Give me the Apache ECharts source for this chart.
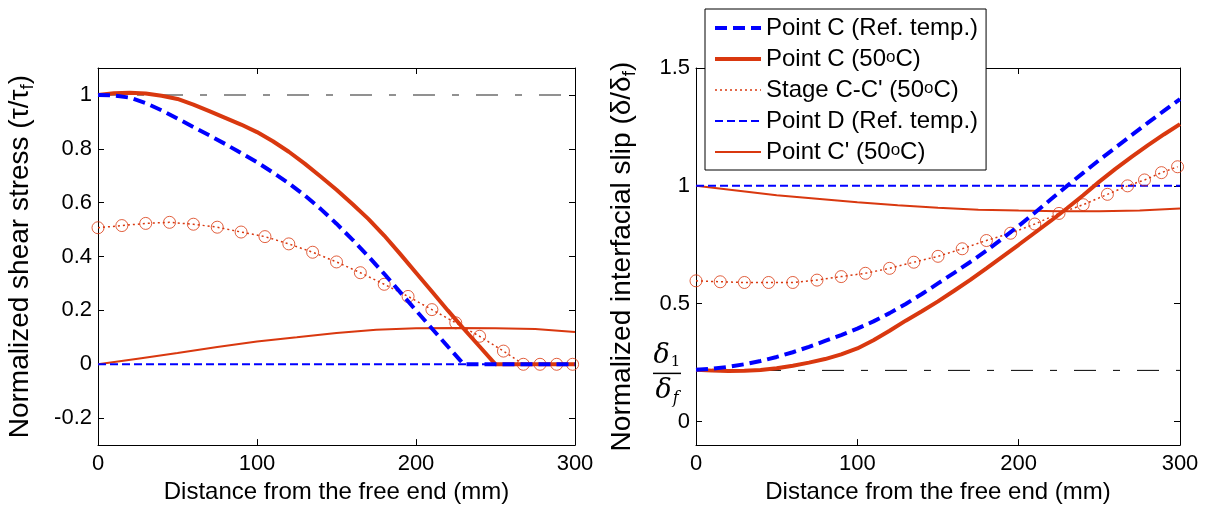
<!DOCTYPE html>
<html><head><meta charset="utf-8">
<script src="https://cdn.jsdelivr.net/npm/echarts@6/dist/echarts.min.js"></script>
<style>html,body{margin:0;padding:0;background:#fff}#c{width:1210px;height:509px}</style>
</head><body><div id="c"></div>
<script>
// ---------- data ----------
const xFine = [0,10,20,30,40,50,60,70,80,90,100,110,120,130,140,150,160,170,180,190,200,210,220,230,240,250,260,270,280,290,300];
const xCoarse = [0,25,50,75,100,125,150,175,200,225,250,275,300];
const xEnds = [0,300];
const stageX = [0,15,30,45,60,75,90,105,120,135,150,165,180,195,210,225,240,255,267.5,278,288.5,298.5];

// left panel: normalized shear stress
const shearPointCRef = [1.0,0.998,0.99,0.97,0.943,0.912,0.881,0.85,0.818,0.784,0.75,0.712,0.672,0.627,0.577,0.522,0.463,0.401,0.336,0.268,0.2,0.133,0.066,0,0,0,0,0,0,0,0];
const shearPointC50 = [1.0,1.006,1.008,1.005,0.997,0.985,0.964,0.94,0.915,0.89,0.862,0.828,0.789,0.745,0.697,0.648,0.595,0.54,0.478,0.41,0.34,0.27,0.2,0.132,0.066,0,0,0,0,0,0];
const shearStage = [0.507,0.515,0.523,0.527,0.52,0.509,0.491,0.474,0.447,0.416,0.38,0.34,0.297,0.252,0.203,0.154,0.104,0.049,0,0,0,0];
const shearPointDRef = [0,0];
const shearPointCp50 = [0,0.021,0.042,0.064,0.085,0.1,0.116,0.128,0.134,0.135,0.134,0.131,0.12];
const shearRefLine = [1,1];

// right panel: normalized interfacial slip
const slipPointCRef = [0.22,0.224,0.232,0.243,0.257,0.274,0.294,0.317,0.342,0.367,0.394,0.425,0.46,0.499,0.541,0.586,0.631,0.677,0.725,0.777,0.83,0.886,0.943,1.0,1.055,1.11,1.162,1.215,1.267,1.318,1.368];
const slipPointC50 = [0.22,0.216,0.214,0.215,0.219,0.226,0.237,0.25,0.265,0.285,0.31,0.345,0.385,0.428,0.468,0.51,0.555,0.601,0.65,0.7,0.75,0.801,0.852,0.905,0.96,1.018,1.072,1.123,1.172,1.218,1.262];
const slipStage = [0.597,0.593,0.59,0.59,0.59,0.6,0.615,0.629,0.65,0.676,0.701,0.733,0.768,0.799,0.838,0.883,0.92,0.964,1.0,1.025,1.056,1.081];
const slipPointDRef = [1,1];
const slipPointCp50 = [1.0,0.98,0.96,0.945,0.93,0.918,0.907,0.899,0.895,0.892,0.892,0.895,0.904];
const slipRefLine = [0.217,0.217];

const legendNames = ['Point C (Ref. temp.)','Point C (50oC)',"Stage C-C' (50oC)",'Point D (Ref. temp.)',"Point C' (50oC)"];
const xTickValues = [0,100,200,300];
const shearTickValues = [-0.2,0,0.2,0.4,0.6,0.8,1];
const slipTickValues = [0,0.5,1,1.5];

// ---------- styling ----------
const RED = '#D9380F';
const BLUE = '#0000FF';
const FONT = '"Liberation Sans", Arial, sans-serif';
const zip = (xs, ys) => xs.map((x, i) => [x, ys[i]]);

function xAx(grid, pos, min, max, ticks, withLabel) {
  return {
    type: 'value', gridIndex: grid, position: pos, min: min, max: max,
    axisLine: {show: true, onZero: false, lineStyle: {color: '#000', width: 1}},
    axisTick: {show: true, inside: true, length: 6, customValues: ticks, lineStyle: {color: '#000'}},
    axisLabel: {show: withLabel, customValues: ticks, fontSize: 22, color: '#000', fontFamily: FONT, margin: 8},
    splitLine: {show: false},
    name: withLabel ? 'Distance from the free end (mm)' : '',
    nameLocation: 'middle', nameGap: 30,
    nameTextStyle: {fontSize: 24, color: '#000', fontFamily: FONT}
  };
}
function yAx(grid, pos, min, max, ticks, withLabel, name, gap) {
  return {
    type: 'value', gridIndex: grid, position: pos, min: min, max: max,
    axisLine: {show: true, onZero: false, lineStyle: {color: '#000', width: 1}},
    axisTick: {show: true, inside: true, length: 6, customValues: ticks, lineStyle: {color: '#000'}},
    axisLabel: {show: withLabel, customValues: ticks, fontSize: 22, color: '#000', fontFamily: FONT, margin: 6},
    splitLine: {show: false},
    name: withLabel ? name : '',
    nameLocation: 'middle', nameGap: gap, nameRotate: 90,
    nameTextStyle: {fontSize: 28, color: '#000', fontFamily: FONT,
      rich: {sub: {fontSize: 19, color: '#000', fontFamily: FONT, verticalAlign: 'bottom', padding: [14, 0, 0, 0]}}}
  };
}
function lineSeries(name, xi, yi, data, color, width, type, z) {
  return {type: 'line', name: name, xAxisIndex: xi, yAxisIndex: yi, data: data,
    symbol: 'none', smooth: false, z: z, silent: true,
    lineStyle: {color: color, width: width, type: type}, itemStyle: {color: color}};
}

const chart = echarts.init(document.getElementById('c'), null, {renderer: 'canvas'});
const option = {
  animation: false,
  backgroundColor: '#fff',
  grid: [
    {left: 98, top: 68, width: 477, height: 380},
    {left: 696, top: 68, width: 484, height: 380}
  ],
  xAxis: [
    xAx(0, 'bottom', 0, 300, xTickValues, true),
    xAx(0, 'top', 0, 300, xTickValues, false),
    xAx(1, 'bottom', 0, 300, xTickValues, true),
    xAx(1, 'top', 0, 300, xTickValues, false)
  ],
  yAxis: [
    yAx(0, 'left', -0.3, 1.1, shearTickValues, true, 'Normalized shear stress (τ/τ{sub|f})', 61),
    yAx(0, 'right', -0.3, 1.1, shearTickValues, false, '', 0),
    yAx(1, 'left', -0.1, 1.5, slipTickValues, true, 'Normalized interfacial slip (δ/δ{sub|f})', 57),
    yAx(1, 'right', -0.1, 1.5, slipTickValues, false, '', 0)
  ],
  legend: {
    data: legendNames,
    orient: 'vertical', left: 705, top: 9,
    padding: [7, 8, 6, 8], itemGap: 7, itemWidth: 46, itemHeight: 14,
    backgroundColor: '#fff', borderColor: '#000', borderWidth: 1, borderRadius: 0,
    selectedMode: false,
    itemStyle: {opacity: 0, color: 'rgba(0,0,0,0)', borderWidth: 0},
    lineStyle: {width: 'inherit', type: 'inherit'},
    formatter: n => n.replace('50oC', '50{sup|o}C'),
    textStyle: {fontSize: 24, color: '#000', fontFamily: FONT, lineHeight: 21,
      rich: {sup: {fontSize: 17, color: '#000', fontFamily: FONT, verticalAlign: 'top', padding: [0, 0, 10, 0]}}}
  },
  series: [
    // left panel
    lineSeries('refShear', 0, 0, zip(xEnds, shearRefLine), '#6E6E6E', 1.5, [22, 17, 7, 17], 1),
    lineSeries("Point C' (50oC)", 0, 0, zip(xCoarse, shearPointCp50), RED, 2, 'solid', 2),
    lineSeries('Point D (Ref. temp.)', 0, 0, zip(xEnds, shearPointDRef), BLUE, 2, [8, 4], 3),
    lineSeries("Stage C-C' (50oC)", 0, 0, zip(stageX, shearStage), RED, 1.5, [2, 3], 3),
    {type: 'scatter', name: 'stageMarkers', xAxisIndex: 0, yAxisIndex: 0, data: zip(stageX, shearStage),
      symbol: 'circle', symbolSize: 12, silent: true, z: 3,
      itemStyle: {color: 'rgba(255,255,255,0)', borderColor: RED, borderWidth: 1}},
    lineSeries('Point C (50oC)', 0, 0, zip(xFine, shearPointC50), RED, 4, 'solid', 4),
    lineSeries('Point C (Ref. temp.)', 0, 0, zip(xFine, shearPointCRef), BLUE, 4, [12, 6], 5),
    // right panel
    lineSeries('refSlip', 2, 2, zip(xEnds, slipRefLine), '#000', 1, [22, 17, 7, 17], 1),
    lineSeries("Point C' (50oC)", 2, 2, zip(xCoarse, slipPointCp50), RED, 2, 'solid', 2),
    lineSeries('Point D (Ref. temp.)', 2, 2, zip(xEnds, slipPointDRef), BLUE, 2, [8, 4], 3),
    lineSeries("Stage C-C' (50oC)", 2, 2, zip(stageX, slipStage), RED, 1.5, [2, 3], 3),
    {type: 'scatter', name: 'stageMarkers2', xAxisIndex: 2, yAxisIndex: 2, data: zip(stageX, slipStage),
      symbol: 'circle', symbolSize: 12, silent: true, z: 3,
      itemStyle: {color: 'rgba(255,255,255,0)', borderColor: RED, borderWidth: 1}},
    lineSeries('Point C (50oC)', 2, 2, zip(xFine, slipPointC50), RED, 4, 'solid', 4),
    lineSeries('Point C (Ref. temp.)', 2, 2, zip(xFine, slipPointCRef), BLUE, 4, [12, 6], 5)
  ]
};
chart.setOption(option);

// delta_1 / delta_f annotation next to the right y axis, placed at the reference value
const p = chart.convertToPixel({xAxisIndex: 2, yAxisIndex: 2}, [0, slipRefLine[0]]);
const richD = {
  d: {fontSize: 27, fontFamily: '"DejaVu Serif", serif', fontStyle: 'italic', fill: '#000'},
  s: {fontSize: 15, fontFamily: '"DejaVu Serif", serif', fill: '#000', verticalAlign: 'bottom', padding: [12, 0, 0, 1]},
  si: {fontSize: 16, fontFamily: '"DejaVu Serif", serif', fontStyle: 'italic', fill: '#000', verticalAlign: 'bottom', padding: [14, 0, 0, 1]}
};
chart.setOption({
  graphic: [
    {type: 'text', x: p[0] - 29, y: p[1] - 1, z: 10,
      style: {text: '{d|δ}{s|1}', rich: richD, align: 'center', verticalAlign: 'bottom'}},
    {type: 'line', z: 10, shape: {x1: p[0] - 43, y1: p[1] + 3, x2: p[0] - 15, y2: p[1] + 3},
      style: {stroke: '#000', lineWidth: 1.5}},
    {type: 'text', x: p[0] - 29, y: p[1] + 6, z: 10,
      style: {text: '{d|δ}{si|f}', rich: richD, align: 'center', verticalAlign: 'top'}}
  ]
});
</script></body></html>
